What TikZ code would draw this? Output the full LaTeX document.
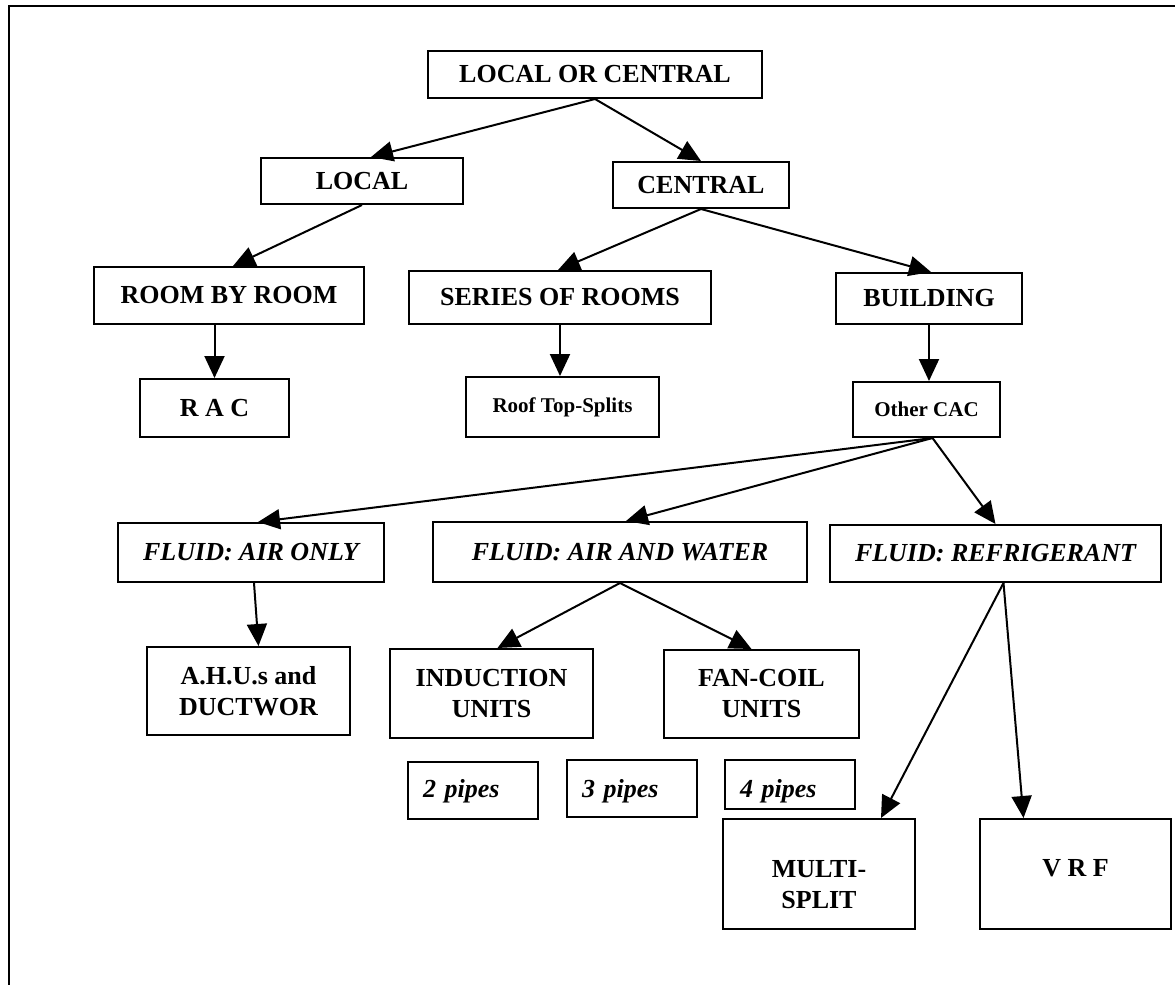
\documentclass[tikz,border=0pt]{standalone}
\usepackage{fontspec}
\setmainfont{Liberation Serif}
\usetikzlibrary{arrows.meta, positioning, calc}
\tikzstyle{class_box} = [rectangle, draw, line width=2pt, inner sep=0pt, anchor=north west, align=center, font=\fontsize{26}{31}\selectfont\bfseries]
\tikzstyle{small_box} = [class_box, font=\fontsize{21}{25}\selectfont\bfseries]
\tikzstyle{fluid_box} = [class_box, font=\fontsize{26}{31}\selectfont\bfseries\itshape]
\tikzstyle{pipe_box} = [fluid_box, text width=100pt, align=left, inner xsep=15pt, inner ysep=0pt]
\tikzstyle{arrow} = [line width=2pt, -{Triangle[length=22pt, width=20pt]}]
\tikzstyle{frame_line} = [line width=2.8pt]

\begin{document}
\begin{tikzpicture}[x=1pt, y=-1pt]

\useasboundingbox (0,0) rectangle (1175,985);

% Frame
\draw[frame_line] (8,6) -- (1175,6);
\draw[frame_line] (9,5) -- (9,985);

% Top levels
\node[class_box, minimum width=334pt, minimum height=47pt] (loc) at (427,50) {LOCAL OR CENTRAL};
\node[class_box, minimum width=202pt, minimum height=46pt] (local) at (260,157) {LOCAL};
\node[class_box, minimum width=176pt, minimum height=46pt] (central) at (612,161) {CENTRAL};

% Scale of the system
\node[class_box, minimum width=270pt, minimum height=57pt] (rbr) at (93,266) {ROOM BY ROOM};
\node[class_box, minimum width=302pt, minimum height=53pt] (sor) at (408,270) {SERIES OF ROOMS};
\node[class_box, minimum width=186pt, minimum height=51pt] (bldg) at (835,272) {BUILDING};
\node[class_box, minimum width=149pt, minimum height=58pt] (rac) at (139,378) {R A C};
\node[small_box, minimum width=193pt, minimum height=60pt] (rts) at (465,376) {Roof Top-Splits};
\node[small_box, minimum width=147pt, minimum height=55pt] (other) at (852,381) {Other CAC};

% Fluids
\node[fluid_box, minimum width=266pt, minimum height=59pt] (aironly) at (117,522) {FLUID: AIR ONLY};
\node[fluid_box, minimum width=374pt, minimum height=60pt] (airwater) at (432,521) {FLUID: AIR AND WATER};
\node[fluid_box, minimum width=331pt, minimum height=57pt] (refrig) at (829,524) {FLUID: REFRIGERANT};

% Terminal units
\node[class_box, minimum width=203pt, minimum height=88pt] (ahu) at (146,646) {A.H.U.s and\\DUCTWOR};
\node[class_box, minimum width=203pt, minimum height=89pt] (induc) at (389,648) {INDUCTION\\UNITS};
\node[class_box, minimum width=195pt, minimum height=88pt] (fancoil) at (663,649) {FAN-COIL\\UNITS};
\node[pipe_box, text height=35pt, text depth=22pt] (p2) at (407,761) {2 pipes};
\node[pipe_box, text height=37pt, text depth=20pt] (p3) at (566,759) {3 pipes};
\node[pipe_box, text height=37pt, text depth=12pt] (p4) at (724,759) {4 pipes};
\node[class_box, minimum width=192pt, minimum height=110pt] (ms) at (722,818) {\rule{0pt}{39pt}MULTI-\\SPLIT};
\node[class_box, minimum width=191pt, minimum height=110pt, text depth=12pt] (vrf) at (979,818) {V R F};

% Arrows
\draw[arrow] (loc.south) -- ([xshift=9pt]local.north);
\draw[arrow] (loc.south) -- (central.north);
\draw[arrow] (local.south) -- ([xshift=4pt]rbr.north);
\draw[arrow] (central.south) -- ([xshift=-2pt]sor.north);
\draw[arrow] (central.south) -- ([xshift=2pt]bldg.north);
\draw[arrow] (rbr.south -| rac.north) -- (rac.north);
\draw[arrow] (sor.south) -- (sor.south |- rts.north);
\draw[arrow] (bldg.south) -- (bldg.south |- other.north);
\draw[arrow] ([xshift=6pt]other.south) -- ([xshift=7pt]aironly.north);
\draw[arrow] ([xshift=6pt]other.south) -- ([xshift=6pt]airwater.north);
\draw[arrow] ([xshift=6pt]other.south) -- (refrig.north);
\draw[arrow] ([xshift=3pt]aironly.south) -- ([xshift=10pt]ahu.north);
\draw[arrow] (airwater.south) -- ([xshift=6pt]induc.north);
\draw[arrow] (airwater.south) -- ([xshift=-10pt]fancoil.north);
\draw[arrow] ([xshift=8pt]refrig.south) -- ([xshift=62pt]ms.north);
\draw[arrow] ([xshift=8pt]refrig.south) -- ([xshift=-52pt]vrf.north);

\end{tikzpicture}
\end{document}
